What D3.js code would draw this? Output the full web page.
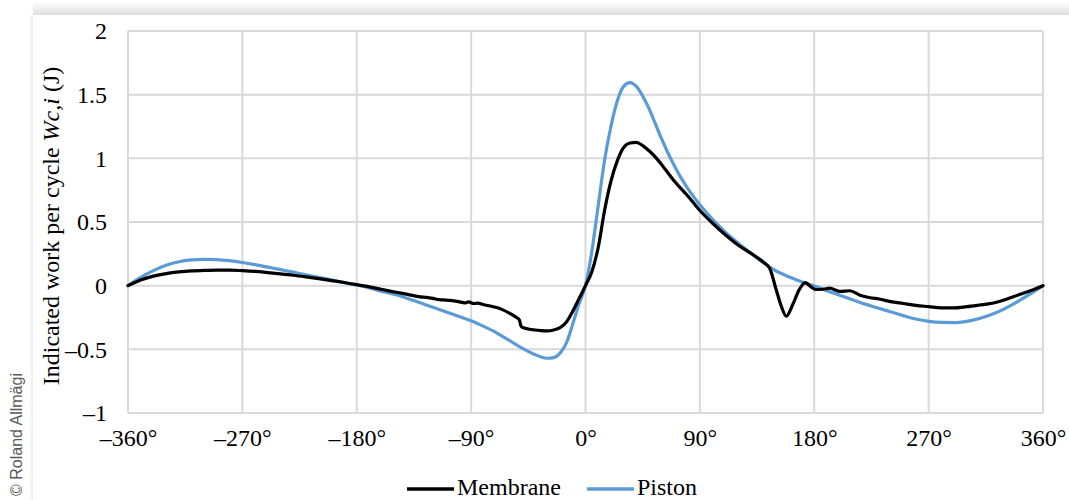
<!DOCTYPE html>
<html>
<head>
<meta charset="utf-8">
<script src="https://cdn.jsdelivr.net/npm/d3@7"></script>
<style>
  html, body { margin: 0; padding: 0; background: #ffffff; }
  svg { display: block; }
</style>
</head>
<body>
<svg id="chart" width="1069" height="500"></svg>
<script>
// Crank angle (degrees) and indicated work per cycle (J)
const membraneAngle = [-360,-350,-340,-330,-320,-310,-300,-290,-280,-270,-260,-250,-240,-230,-220,-210,-200,-190,-180,-170,-160,-150,-140,-130,-125,-120,-115,-110,-105,-100,-95,-92,-88,-85,-80,-75,-70,-65,-60,-55,-52,-51,-50,-45,-40,-35,-30,-25,-20,-15,-10,-5,0,5,10,15,20,25,30,35,40,45,50,55,60,70,80,90,100,110,120,130,140,145,150,154,158,163,168,173,177,181,187,192,200,208,216,224,231,240,250,260,270,280,290,300,310,320,330,340,350,360];
const membraneWork  = [0,0.045,0.075,0.095,0.108,0.116,0.12,0.122,0.122,0.118,0.112,0.103,0.093,0.082,0.069,0.055,0.04,0.025,0.008,-0.01,-0.03,-0.05,-0.068,-0.088,-0.092,-0.1,-0.11,-0.113,-0.118,-0.125,-0.135,-0.128,-0.14,-0.137,-0.15,-0.16,-0.172,-0.19,-0.215,-0.245,-0.27,-0.31,-0.325,-0.34,-0.348,-0.353,-0.355,-0.348,-0.33,-0.285,-0.2,-0.1,0,0.11,0.3,0.59,0.82,0.98,1.085,1.12,1.125,1.1,1.06,1.01,0.95,0.82,0.71,0.59,0.49,0.4,0.32,0.255,0.185,0.135,-0.03,-0.16,-0.24,-0.15,-0.035,0.024,-0.005,-0.03,-0.028,-0.02,-0.045,-0.04,-0.075,-0.095,-0.105,-0.125,-0.14,-0.155,-0.165,-0.175,-0.175,-0.165,-0.152,-0.138,-0.11,-0.075,-0.04,0];

const pistonAngle = [-360,-350,-340,-330,-320,-310,-300,-290,-280,-270,-260,-250,-240,-230,-220,-210,-200,-190,-180,-170,-160,-150,-140,-130,-120,-110,-100,-90,-80,-70,-60,-50,-40,-35,-30,-25,-20,-15,-10,-5,0,5,10,15,20,25,30,35,40,45,50,55,60,65,70,75,80,90,100,110,120,130,140,150,160,170,180,190,200,210,220,230,240,250,260,270,280,290,300,310,320,330,340,350,360];
const pistonWork  = [0,0.065,0.118,0.16,0.188,0.202,0.207,0.205,0.196,0.182,0.165,0.146,0.126,0.106,0.085,0.065,0.045,0.025,0.005,-0.018,-0.045,-0.07,-0.1,-0.135,-0.17,-0.205,-0.24,-0.275,-0.32,-0.37,-0.43,-0.49,-0.54,-0.56,-0.57,-0.565,-0.53,-0.45,-0.3,-0.14,0,0.27,0.63,0.985,1.25,1.45,1.565,1.595,1.565,1.49,1.39,1.27,1.15,1.04,0.94,0.85,0.77,0.635,0.52,0.42,0.335,0.257,0.178,0.115,0.07,0.03,-0.002,-0.04,-0.075,-0.11,-0.145,-0.175,-0.205,-0.235,-0.262,-0.28,-0.289,-0.29,-0.28,-0.258,-0.225,-0.18,-0.125,-0.065,0];

const seriesNames = ["Membrane", "Piston"];
const seriesColors = ["#000000", "#5b9bd5"];
const xTicks = [-360,-270,-180,-90,0,90,180,270,360];
const yTicks = [-1,-0.5,0,0.5,1,1.5,2];

const svg = d3.select("#chart");
const W = 1069, H = 500;
const plot = {left: 128, right: 1043, top: 31, bottom: 413};

const x = d3.scaleLinear().domain([-360, 360]).range([plot.left, plot.right]);
const y = d3.scaleLinear().domain([-1, 2]).range([plot.bottom, plot.top]);

// Card background with a soft shadow along its top and left edges
const defs = svg.append("defs");
const gTop = defs.append("linearGradient").attr("id", "shadowTop").attr("x1", 0).attr("y1", 0).attr("x2", 0).attr("y2", 1);
gTop.append("stop").attr("offset", "0%").attr("stop-color", "#ffffff");
gTop.append("stop").attr("offset", "100%").attr("stop-color", "#dedede");
const gLeft = defs.append("linearGradient").attr("id", "shadowLeft").attr("x1", 0).attr("y1", 0).attr("x2", 1).attr("y2", 0);
gLeft.append("stop").attr("offset", "0%").attr("stop-color", "#ffffff");
gLeft.append("stop").attr("offset", "100%").attr("stop-color", "#ececec");

svg.append("rect").attr("x", 33).attr("y", 2).attr("width", W - 33).attr("height", 13).attr("fill", "url(#shadowTop)");
svg.append("rect").attr("x", 29).attr("y", 15).attr("width", 4).attr("height", H - 15).attr("fill", "url(#shadowLeft)");
svg.append("rect").attr("x", 33).attr("y", 15).attr("width", W - 33).attr("height", H - 15).attr("fill", "#ffffff");

// Copyright note along the left margin
svg.append("text")
  .attr("transform", "translate(22,496) rotate(-90)")
  .attr("font-family", "Liberation Sans, Arial, sans-serif")
  .attr("font-size", 16)
  .attr("fill", "#595959")
  .text("© Roland Allmägi");

const serif = "'Liberation Serif', 'Times New Roman', serif";
const fmtNum = v => (v < 0 ? "\u2013" : "") + Math.abs(v);

// Grid
const grid = svg.append("g").attr("stroke", "#d9d9d9").attr("stroke-width", 2);
grid.selectAll("line.v").data(xTicks).join("line")
  .attr("class", "v")
  .attr("x1", d => x(d)).attr("x2", d => x(d))
  .attr("y1", plot.top).attr("y2", plot.bottom);
grid.selectAll("line.h").data(yTicks).join("line")
  .attr("class", "h")
  .attr("x1", plot.left).attr("x2", plot.right)
  .attr("y1", d => y(d)).attr("y2", d => y(d));

// Axes (labels only; the grid supplies the lines)
const xAxis = d3.axisBottom(x).tickValues(xTicks).tickSize(0).tickPadding(0)
  .tickFormat(d => fmtNum(d) + "°");
const gx = svg.append("g").attr("transform", `translate(0,${plot.bottom})`).call(xAxis);
gx.attr("font-family", serif).attr("font-size", 24);
gx.select(".domain").remove();
gx.selectAll("text").attr("fill", "#000").attr("dy", null).attr("y", 33);

const yAxis = d3.axisLeft(y).tickValues(yTicks).tickSize(0).tickPadding(0)
  .tickFormat(fmtNum);
const gy = svg.append("g").attr("transform", `translate(107,0)`).call(yAxis);
gy.attr("font-family", serif).attr("font-size", 24);
gy.select(".domain").remove();
gy.selectAll("text").attr("fill", "#000").attr("dy", "0.32em");

// Y axis title
const yTitle = svg.append("text")
  .attr("transform", `translate(59,${(plot.top + plot.bottom) / 2 + 4}) rotate(-90)`)
  .attr("text-anchor", "middle")
  .attr("font-family", serif)
  .attr("font-size", 24)
  .attr("fill", "#000");
yTitle.append("tspan").text("Indicated work per cycle ");
yTitle.append("tspan").attr("font-style", "italic").text("Wc,i");
yTitle.append("tspan").text(" (J)");

// Series lines
const line = d3.line().x(d => x(d[0])).y(d => y(d[1])).curve(d3.curveMonotoneX);
const series = [
  d3.zip(membraneAngle, membraneWork),
  d3.zip(pistonAngle, pistonWork)
];
// Piston drawn first so the membrane line sits on top where they overlap
[1, 0].forEach(i => {
  svg.append("path")
    .datum(series[i])
    .attr("fill", "none")
    .attr("stroke", seriesColors[i])
    .attr("stroke-width", 3.2)
    .attr("stroke-linejoin", "round")
    .attr("stroke-linecap", "round")
    .attr("d", line);
});

// Legend
const legendItems = [
  {name: seriesNames[0], color: seriesColors[0], x0: 407},
  {name: seriesNames[1], color: seriesColors[1], x0: 587}
];
const lg = svg.append("g");
legendItems.forEach(it => {
  lg.append("line").attr("x1", it.x0).attr("x2", it.x0 + 47)
    .attr("y1", 489).attr("y2", 489)
    .attr("stroke", it.color).attr("stroke-width", 3.5);
  lg.append("text").attr("x", it.x0 + 50).attr("y", 495)
    .attr("font-family", serif).attr("font-size", 24).attr("fill", "#000")
    .text(it.name);
});
</script>
</body>
</html>
